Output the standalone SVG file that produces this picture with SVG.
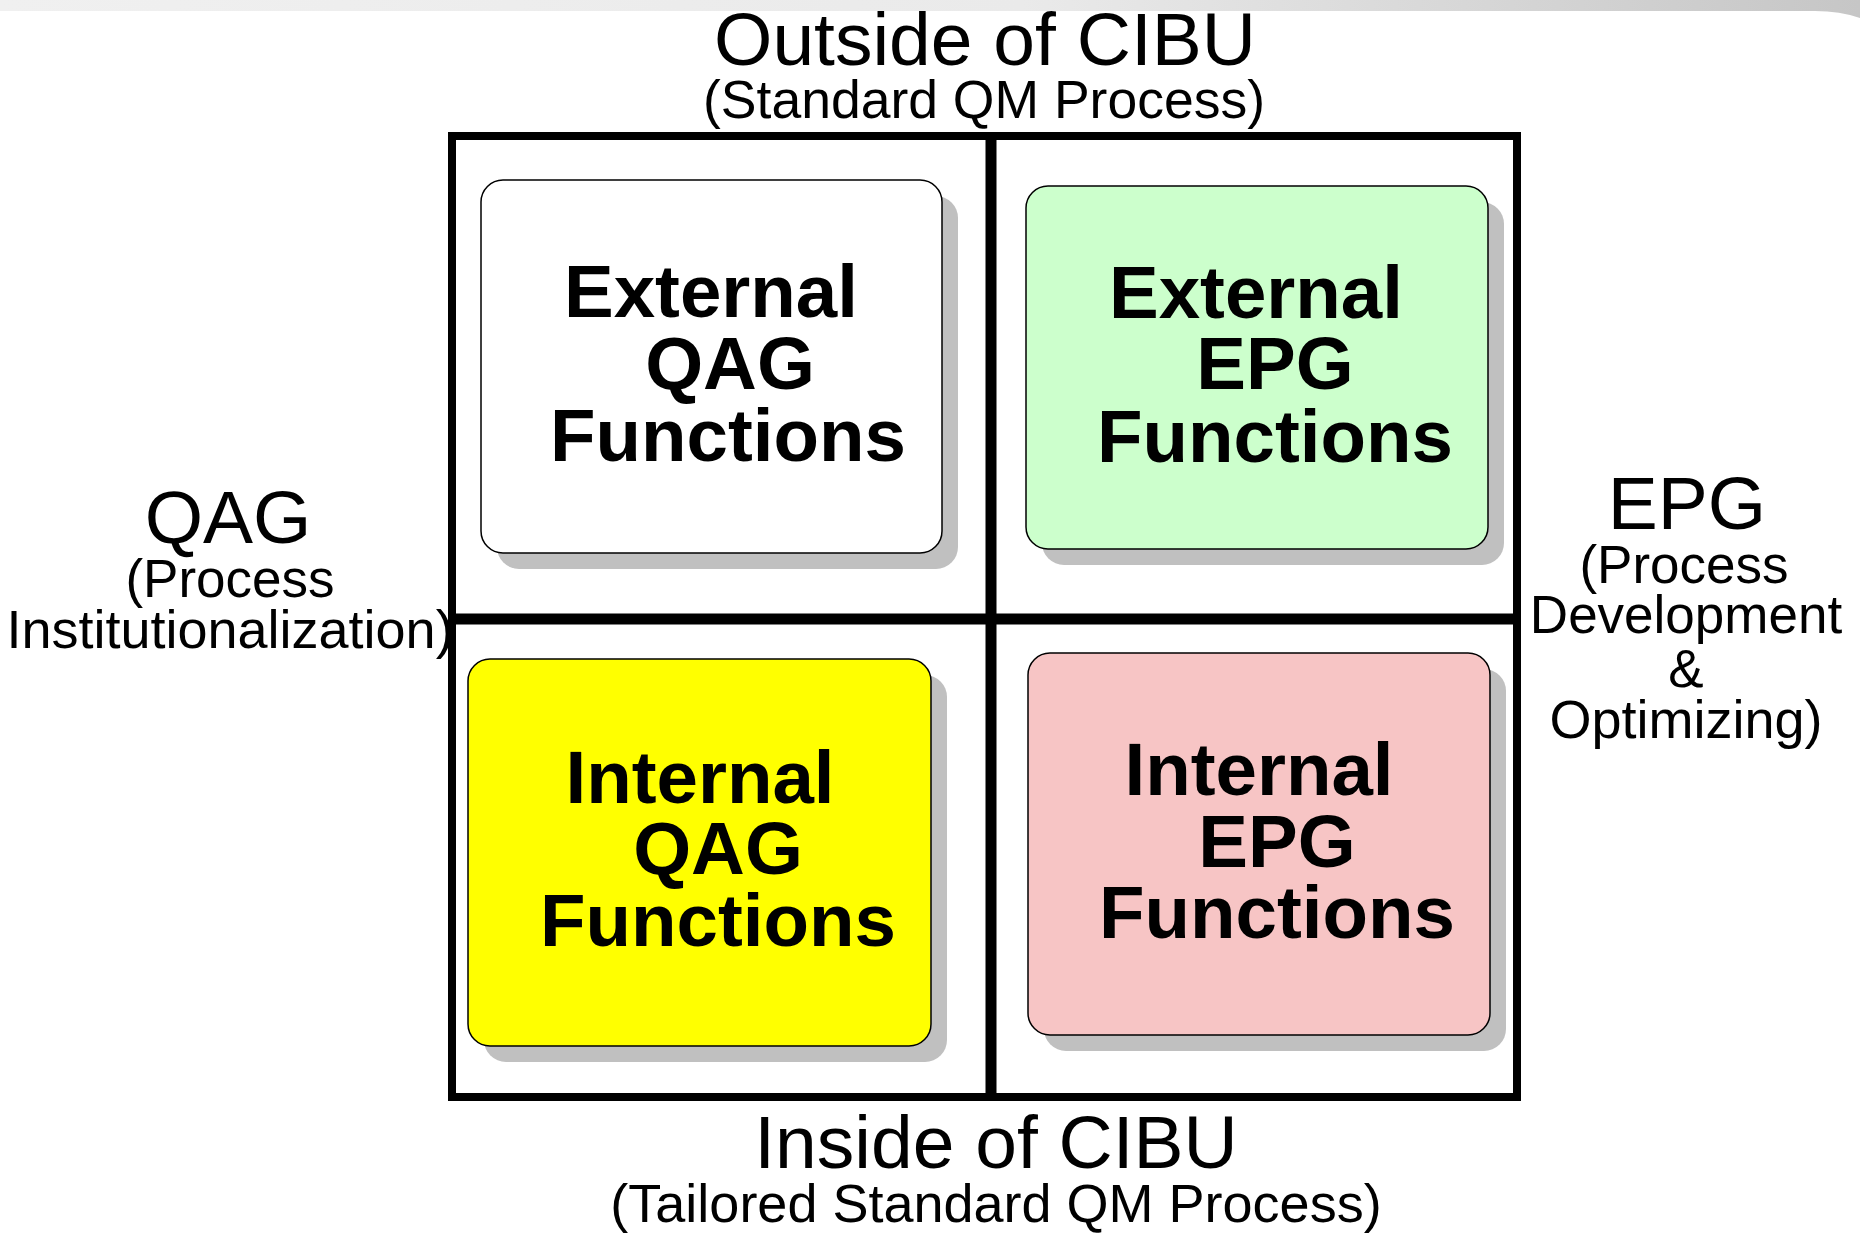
<svg xmlns="http://www.w3.org/2000/svg" width="1860" height="1233" viewBox="0 0 1860 1233">
  <defs>
    <linearGradient id="topBand" x1="0" y1="0" x2="1" y2="0">
      <stop offset="0" stop-color="#f0f0f0"/>
      <stop offset="0.55" stop-color="#eaeaea"/>
      <stop offset="1" stop-color="#c6c6c6"/>
    </linearGradient>
  </defs>
  <style>
    .lbl { font-family: "Liberation Sans", Arial, sans-serif; fill: #000; text-anchor: middle; }
    .big { font-size: 75px; }
    .sub { font-size: 54px; }
    .side { font-size: 53px; }
    .box { stroke: #000; stroke-width: 1.5; }
    .shadow { fill: #c0c0c0; }
    .title { font-family: "Liberation Sans", Arial, sans-serif; font-weight: bold; font-size: 74.5px; fill: #000; text-anchor: middle; }
    .frame { fill: none; stroke: #000; }
  </style>

  <rect width="1860" height="1233" fill="#ffffff"/>

  <!-- slide header band -->
  <path d="M0 0 H1860 V18 Q1840 11 1815 11 H0 Z" fill="url(#topBand)"/>

  <!-- axis labels -->
  <g id="label-top">
    <text class="lbl big" x="985" y="65">Outside of CIBU</text>
    <text class="lbl sub" x="984" y="118" style="font-size:53.5px">(Standard QM Process)</text>
  </g>
  <g id="label-bottom">
    <text class="lbl big" x="996" y="1168">Inside of CIBU</text>
    <text class="lbl sub" x="996" y="1222">(Tailored Standard QM Process)</text>
  </g>
  <g id="label-left">
    <text class="lbl big" x="228" y="543">QAG</text>
    <text class="lbl side" x="230" y="597">(Process</text>
    <text class="lbl side" x="230" y="648" style="font-size:54px">Institutionalization)</text>
  </g>
  <g id="label-right">
    <text class="lbl big" x="1687" y="529">EPG</text>
    <text class="lbl side" x="1684" y="583">(Process</text>
    <text class="lbl side" x="1686" y="633">Development</text>
    <text class="lbl side" x="1686" y="687">&amp;</text>
    <text class="lbl side" x="1686" y="738" style="font-size:54px">Optimizing)</text>
  </g>

  <!-- quadrant grid -->
  <g id="grid">
    <rect class="frame" x="452" y="136" width="1065" height="961" stroke-width="8"/>
    <line x1="991" y1="136" x2="991" y2="1097" stroke="#000" stroke-width="11"/>
    <line x1="452" y1="619" x2="1517" y2="619" stroke="#000" stroke-width="11"/>
  </g>

  <!-- quadrant nodes -->
  <g id="external-qag">
    <rect class="shadow" x="497" y="196" width="461" height="373" rx="22"/>
    <rect class="box" x="481" y="180" width="461" height="373" rx="22" fill="#ffffff"/>
    <text class="title" x="711" y="317">External</text>
    <text class="title" x="730" y="389">QAG</text>
    <text class="title" x="728" y="461">Functions</text>
  </g>
  <g id="external-epg">
    <rect class="shadow" x="1042" y="202" width="462" height="363" rx="22"/>
    <rect class="box" x="1026" y="186" width="462" height="363" rx="22" fill="#ccffcc"/>
    <text class="title" x="1256" y="318">External</text>
    <text class="title" x="1275" y="389">EPG</text>
    <text class="title" x="1275" y="462">Functions</text>
  </g>
  <g id="internal-qag">
    <rect class="shadow" x="484" y="675" width="463" height="387" rx="22"/>
    <rect class="box" x="468" y="659" width="463" height="387" rx="22" fill="#ffff00"/>
    <text class="title" x="700" y="803">Internal</text>
    <text class="title" x="718" y="874">QAG</text>
    <text class="title" x="718" y="946">Functions</text>
  </g>
  <g id="internal-epg">
    <rect class="shadow" x="1044" y="669" width="462" height="382" rx="22"/>
    <rect class="box" x="1028" y="653" width="462" height="382" rx="22" fill="#f7c5c5"/>
    <text class="title" x="1259" y="795">Internal</text>
    <text class="title" x="1277" y="867">EPG</text>
    <text class="title" x="1277" y="938">Functions</text>
  </g>
</svg>
